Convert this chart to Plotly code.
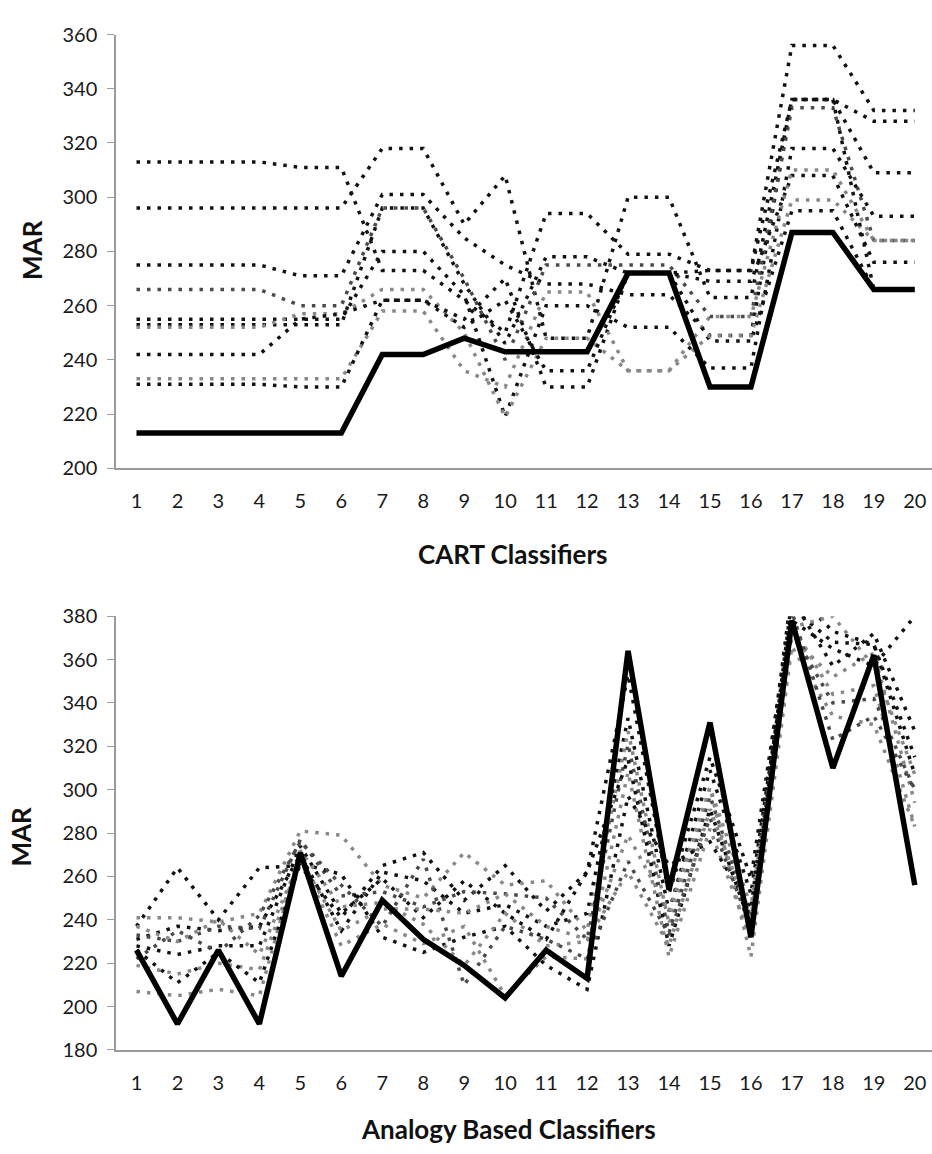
import plotly.graph_objects as go

categories = list(range(1, 21))

# ---- CART classifiers (top panel) ----
cart_main = [213, 213, 213.5, 213.5, 213, 213, 242, 242, 248, 243, 243, 243, 272, 272, 230, 230, 287, 287, 266, 266]
cart_d1 = [313, 313, 313, 313, 311, 311, 273, 273, 262, 250, 294, 294, 279, 279, 273, 273, 356, 356, 332, 332]
cart_d2 = [296, 296, 296, 296, 296, 296, 318, 318, 290, 308, 248, 248, 300, 300, 263, 263, 336, 336, 328, 328]
cart_d3 = [275, 275, 275, 275, 271, 271, 301, 301, 285, 275, 268, 268, 264, 264, 249, 249, 336, 336, 309, 309]
cart_d4 = [266, 266, 266, 266, 260, 260, 296, 296, 270, 240, 275, 275, 275, 275, 256, 256, 333, 333, 284, 284]
cart_d5 = [255, 255, 255, 255, 255, 255, 280, 280, 264, 219, 260, 260, 252, 252, 237, 237, 318, 318, 293, 293]
cart_d6 = [253, 253, 253, 253, 253, 253, 296, 296, 268, 246, 278, 278, 272, 272, 269, 269, 308, 308, 276, 276]
cart_d7 = [252, 252, 252, 252, 257, 257, 266, 266, 250, 219, 248, 248, 236, 236, 256, 256, 310, 310, 284, 284]
cart_d8 = [242, 242, 242, 242, 255, 257, 262, 262, 255, 270, 230, 230, 272, 272, 247, 247, 295, 295, 266, 266]
cart_d9 = [233, 233, 233, 233, 233, 233, 258, 258, 236, 230, 265, 265, 236, 236, 249, 249, 299, 299, 284, 284]
cart_d10 = [231, 231, 231, 231, 230, 230, 262, 262, 252, 262, 236, 236, 272, 272, 273, 273, 336, 336, 266, 266]

# ---- Analogy based classifiers (bottom panel) ----
abe_main = [226, 192, 226, 192, 271, 214, 249, 231, 219, 204, 226, 213, 364, 254, 331, 232, 378, 310, 362, 256]
abe_d1 = [237, 264, 240, 264, 265, 241, 265, 271, 249, 265, 244, 262, 353, 252, 315, 259, 384, 368, 367, 315]
abe_d2 = [231, 237, 235, 237, 270, 235, 262, 258, 243, 247, 237, 243, 333, 244, 309, 252, 378, 365, 357, 380]
abe_d3 = [241, 241, 239, 243, 281, 279, 256, 250, 271, 256, 258, 235, 327, 238, 301, 246, 376, 344, 348, 283]
abe_d4 = [233, 230, 237, 236, 277, 251, 253, 246, 253, 252, 250, 231, 321, 234, 297, 241, 373, 340, 342, 300]
abe_d5 = [228, 224, 228, 228, 274, 243, 259, 241, 258, 243, 231, 262, 314, 228, 291, 237, 388, 357, 372, 327]
abe_d6 = [219, 215, 220, 217, 268, 228, 238, 229, 237, 205, 223, 222, 308, 223, 282, 231, 370, 352, 363, 294]
abe_d7 = [226, 211, 225, 211, 266, 261, 232, 225, 232, 237, 219, 208, 297, 265, 276, 245, 392, 373, 367, 307]
abe_d8 = [207, 205, 208, 205, 272, 246, 248, 238, 219, 243, 228, 230, 279, 244, 301, 223, 366, 334, 330, 283]
abe_d9 = [222, 235, 225, 242, 276, 256, 237, 268, 210, 237, 231, 222, 267, 233, 287, 236, 382, 323, 334, 300]
abe_d10 = [237, 230, 240, 224, 268, 235, 245, 245, 243, 252, 237, 231, 262, 228, 291, 241, 375, 380, 357, 307]

y_ticks_top = [200, 220, 240, 260, 280, 300, 320, 340, 360]
y_ticks_bottom = [180, 200, 220, 240, 260, 280, 300, 320, 340, 360, 380]

BLACK = "#121212"
DARK = "#4a4a4a"
GRAY = "#888888"

top_dotted = [
    (cart_d1, BLACK), (cart_d2, BLACK), (cart_d3, BLACK), (cart_d4, DARK),
    (cart_d5, BLACK), (cart_d6, BLACK), (cart_d7, GRAY), (cart_d8, BLACK),
    (cart_d9, GRAY), (cart_d10, BLACK),
]
bottom_dotted = [
    (abe_d1, BLACK), (abe_d2, BLACK), (abe_d3, GRAY), (abe_d4, DARK),
    (abe_d5, BLACK), (abe_d6, GRAY), (abe_d7, BLACK), (abe_d8, GRAY),
    (abe_d9, DARK), (abe_d10, GRAY),
]

fig = go.Figure()
DOT = "3.5px,7px"

for vals, col in top_dotted:
    fig.add_trace(go.Scatter(x=categories, y=vals, mode="lines", xaxis="x", yaxis="y",
                             line=dict(color=col, width=3.5, dash=DOT), showlegend=False,
                             hoverinfo="skip"))
fig.add_trace(go.Scatter(x=categories, y=cart_main, mode="lines", xaxis="x", yaxis="y",
                         line=dict(color="#000000", width=5.5), showlegend=False))

for vals, col in bottom_dotted:
    fig.add_trace(go.Scatter(x=categories, y=vals, mode="lines", xaxis="x2", yaxis="y2",
                             line=dict(color=col, width=3.5, dash=DOT), showlegend=False,
                             hoverinfo="skip"))
fig.add_trace(go.Scatter(x=categories, y=abe_main, mode="lines", xaxis="x2", yaxis="y2",
                         line=dict(color="#000000", width=5.5), showlegend=False))

H = 1154.0
tick_font = dict(family="Lato, 'Open Sans', sans-serif", size=20, color="#1a1a1a")
title_font = dict(family="Lato, 'Open Sans', sans-serif", size=26, color="#111111")

xcommon = dict(range=[0.5, 20.42], tickmode="array", tickvals=categories,
               ticktext=[str(c) for c in categories], showgrid=False, zeroline=False,
               showline=True, linecolor="#9a9a9a", linewidth=2, ticks="",
               tickfont=tick_font, ticklabelstandoff=14)
ycommon = dict(showgrid=False, zeroline=False, showline=True, linecolor="#9a9a9a",
               linewidth=1.5, ticks="outside", ticklen=7, tickcolor="#9a9a9a",
               tickfont=tick_font, ticklabelstandoff=6)

fig.update_layout(
    width=932, height=1154,
    margin=dict(l=116, r=0, t=0, b=0),
    paper_bgcolor="white", plot_bgcolor="white",
    xaxis=dict(domain=[0, 1], anchor="y", **xcommon),
    yaxis=dict(domain=[1 - 465 / H, 1 - 22 / H], range=[200, 360], tickvals=y_ticks_top,
               anchor="x", **ycommon),
    xaxis2=dict(domain=[0, 1], anchor="y2", **xcommon),
    yaxis2=dict(domain=[1 - 1059 / H, 1 - 616 / H], range=[180, 380], tickvals=y_ticks_bottom,
                anchor="x2", **ycommon),
    annotations=[
        dict(text="<b>CART Classifiers</b>", x=513, y=1 - 552 / H, xref="paper", yref="paper",
             showarrow=False, font=title_font, xanchor="center", yanchor="middle"),
        dict(text="<b>Analogy Based Classifiers</b>", x=508, y=1 - 1140 / H, xref="paper", yref="paper",
             showarrow=False, font=title_font, xanchor="center", yanchor="middle"),
        dict(text="<b>MAR</b>", x=32, y=1 - 242 / H, xref="paper", yref="paper", textangle=-90,
             showarrow=False, font=title_font, xanchor="center", yanchor="middle"),
        dict(text="<b>MAR</b>", x=21, y=1 - 841 / H, xref="paper", yref="paper", textangle=-90,
             showarrow=False, font=title_font, xanchor="center", yanchor="middle"),
    ],
)

# convert pixel x positions of annotations into paper fraction (paper spans plot width)
PW = 932 - 116
for ann in fig.layout.annotations:
    ann.x = (ann.x - 116) / PW

fig.write_html("out.html")
